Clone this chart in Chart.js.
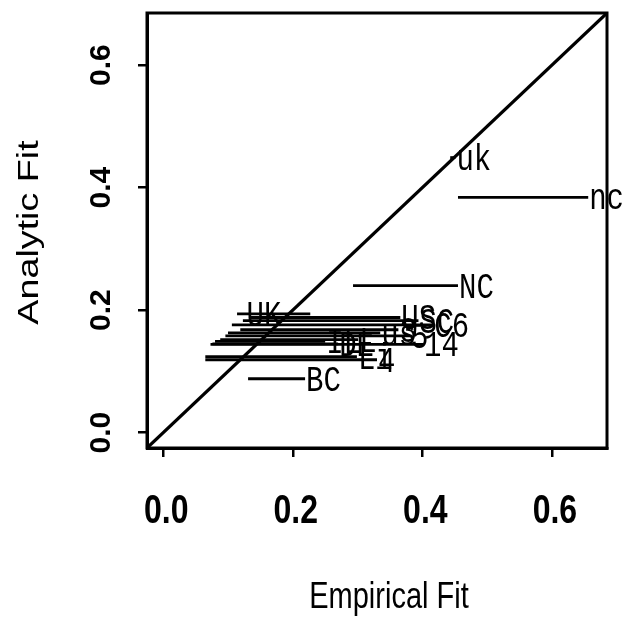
<!DOCTYPE html>
<html>
<head>
    <title>Empirical vs Analytic Fit</title>
    <style>
        body {
            margin: 0;
            padding: 0;
            background-color: #fff;
        }
        #wrap {
            width: 623px;
            height: 620px;
        }
    </style>
</head>
<body>
    <div id="wrap"><canvas id="fitChart"></canvas></div>

    <script src="https://cdn.jsdelivr.net/npm/chart.js"></script>
    <script>
        // one horizontal segment per case: empirical range at the analytic fit
        const caseLabels = ['uk', 'nc', 'NC', 'UK', 'US', 'SC', 'C6', 'us', '3', '5', '14', 'IL', 'DE', 'L', 'Li', '4', 'BC'];
        const empiricalLow = [0.443, 0.455, 0.293, 0.114, 0.134, 0.123, 0.106, 0.100, 0.119, 0.096, 0.073, 0.080, 0.076, 0.088, 0.065, 0.065, 0.131];
        const empiricalHigh = [0.451, 0.656, 0.455, 0.227, 0.366, 0.394, 0.417, 0.335, 0.363, 0.381, 0.401, 0.250, 0.270, 0.301, 0.299, 0.330, 0.219];
        const analyticFit = [0.449, 0.384, 0.240, 0.194, 0.188, 0.183, 0.176, 0.163, 0.168, 0.158, 0.144, 0.149, 0.145, 0.152, 0.124, 0.119, 0.088];
        const labelAt = [0.451, 0.656, 0.455, 0.127, 0.366, 0.394, 0.417, 0.335, 0.363, 0.381, 0.401, 0.250, 0.270, 0.301, 0.299, 0.330, 0.219];

        const tickValues = [0.0, 0.2, 0.4, 0.6];
        const tickText = ['0.0', '0.2', '0.4', '0.6'];
        const axisRange = [-0.025, 0.685];

        const datasets = caseLabels.map((lab, i) => ({
            label: lab,
            data: [{ x: empiricalLow[i], y: analyticFit[i] }, { x: empiricalHigh[i], y: analyticFit[i] }],
            showLine: true,
            borderColor: '#000',
            borderWidth: 2.8,
            pointRadius: 0
        }));
        // y = x reference line
        datasets.push({
            label: 'diag',
            data: axisRange.map(v => ({ x: v, y: v })),
            showLine: true,
            borderColor: '#000',
            borderWidth: 3.2,
            pointRadius: 0
        });

        // text squeezed like the scanned original (taller than wide)
        function tallText(ctx, text, x, y, font, sy, rot) {
            ctx.save();
            ctx.translate(x, y);
            if (rot) ctx.rotate(rot);
            if (rot) ctx.scale(sy, 1); else ctx.scale(1, sy);
            ctx.font = font;
            ctx.fillStyle = '#000';
            ctx.textAlign = 'center';
            ctx.textBaseline = 'middle';
            ctx.fillText(text, 0, 0);
            ctx.restore();
        }

        const decorations = {
            id: 'decorations',
            afterDatasetsDraw(chart) {
                const ctx = chart.ctx;
                const xs = chart.scales.x, ys = chart.scales.y;
                const a = chart.chartArea;

                // box round the plot
                ctx.save();
                ctx.strokeStyle = '#000';
                ctx.lineWidth = 3;
                ctx.strokeRect(a.left, a.top, a.right - a.left, a.bottom - a.top);

                // case labels at the segment ends
                ctx.font = '29px "Liberation Mono", monospace';
                ctx.fillStyle = '#000';
                ctx.textAlign = 'left';
                ctx.textBaseline = 'middle';
                caseLabels.forEach((lab, i) => {
                    const px = xs.getPixelForValue(labelAt[i]) + 1;
                    const py = ys.getPixelForValue(analyticFit[i]) + 2;
                    ctx.save();
                    ctx.translate(px, py);
                    ctx.scale(1, 1.3);
                    ctx.fillText(lab, 0, 0);
                    ctx.restore();
                });
                ctx.restore();

                // tick labels
                tickValues.forEach((v, i) => {
                    tallText(ctx, tickText[i], xs.getPixelForValue(v) + 3, 512, 'bold 32px "Liberation Sans", Arial', 1.25, 0);
                    tallText(ctx, tickText[i], 102, ys.getPixelForValue(v), 'bold 30px "Liberation Sans", Arial', 1.0, -Math.PI / 2);
                });

                // axis titles
                tallText(ctx, 'Empirical Fit', (a.left + a.right) / 2 + 12, 598, '29px "Liberation Sans", Arial', 1.3, 0);
                tallText(ctx, 'Analytic Fit', 30, (a.top + a.bottom) / 2 + 2, '29px "Liberation Sans", Arial', 1.3, -Math.PI / 2);
            }
        };

        const scaleOpts = {
            type: 'linear',
            min: axisRange[0],
            max: axisRange[1],
            afterBuildTicks: s => { s.ticks = tickValues.map(v => ({ value: v })); },
            ticks: { display: false },
            grid: { drawOnChartArea: false, drawTicks: true, tickLength: 9, color: '#000', lineWidth: 2.5 },
            border: { display: true, color: '#000', width: 3 }
        };

        new Chart(document.getElementById('fitChart'), {
            type: 'scatter',
            data: { datasets: datasets },
            options: {
                responsive: true,
                maintainAspectRatio: false,
                animation: false,
                layout: { padding: { left: 138, right: 16, top: 13, bottom: 163 } },
                plugins: {
                    legend: { display: false },
                    tooltip: { enabled: false }
                },
                scales: {
                    x: scaleOpts,
                    y: Object.assign({}, scaleOpts)
                }
            },
            plugins: [decorations]
        });
    </script>
</body>
</html>
